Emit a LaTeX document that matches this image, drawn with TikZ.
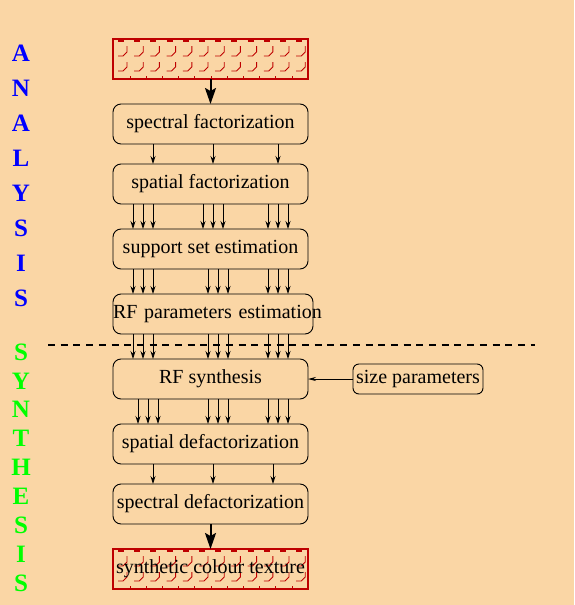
\documentclass[tikz,border=0pt]{standalone}
\usepackage{fontspec}
\setmainfont{Liberation Serif}
\usetikzlibrary{arrows.meta,positioning}
\definecolor{peach}{RGB}{250,214,165}
\definecolor{texred}{RGB}{190,0,0}
\definecolor{anablue}{RGB}{0,0,255}
\definecolor{syngreen}{RGB}{0,255,0}
\tikzset{
	box/.style={draw, line width=0.9pt, outer sep=0pt, rounded corners=8pt, minimum width=195pt, minimum height=40pt, inner xsep=0pt, font=\fontsize{20}{24}\selectfont},
	texbox/.style={draw=texred, line width=1.2pt, outer sep=0pt, minimum width=195pt, minimum height=40pt, inner xsep=0pt, font=\fontsize{20}{24}\selectfont},
	letter/.style={font=\bfseries\fontsize{25}{30}\selectfont, inner sep=0pt},
	arr/.style={-{Stealth[length=8pt,width=5pt]}, line width=0.8pt},
	bigarr/.style={-{Stealth[length=16pt,width=11pt,inset=3pt]}, line width=2pt},
	hooks/.pic={
		\foreach \i in {0,...,11} {
			\pgfmathsetmacro{\xo}{5+16.2*\i}
			\draw[texred, line width=2pt] (\xo,1.5) -- (\xo+6,1.5);
			\draw[texred, line width=0.9pt] (\xo,17) -- (\xo+5,17) -- (\xo+9,13) -- (\xo+9,7);
			\draw[texred, line width=0.9pt] (\xo,32) -- (\xo+5,32) -- (\xo+9,28) -- (\xo+9,23);
			\draw[texred, line width=0.9pt] (\xo+12,40) -- (\xo+12,37);
		}
	}
}
\begin{document}
\begin{tikzpicture}[x=1pt,y=-1pt, node distance=25pt]
	\fill[peach] (0,0) rectangle (574,605);
	\useasboundingbox (0,0) rectangle (574,605);
	% side titles
	\foreach \l [count=\i] in {A,N,A,L,Y,S,I,S}
		\node[letter, text=anablue] (ana\i) at (21,18+35*\i) {\l};
	\foreach \l [count=\i] in {S,Y,N,T,H,E,S,I,S}
		\node[letter, text=syngreen] (syn\i) at (21,323.1+28.9*\i) {\l};
	% textures
	\pic at (113,39) {hooks};
	\pic at (113,549) {hooks};
	% boxes
	\node[texbox] (tex1) at (210.5,59) {};
	\node[box, below=of tex1] (specf) {spectral factorization};
	\node[box, below=20pt of specf] (spatf) {spatial factorization};
	\node[box, below=of spatf] (supp) {support set estimation};
	\node[box, below=of supp, xshift=2.5pt, text width=200pt, align=center] (rfpar) {\mbox{RF parameters estimation}};
	\node[box, below=of rfpar, xshift=-2.5pt] (rfsyn) {RF synthesis};
	\node[box, right=45pt of rfsyn, minimum width=130pt, minimum height=30pt, rounded corners=6pt] (size) {size parameters};
	\node[box, below=of rfsyn] (spatd) {spatial defactorization};
	\node[box, below=20pt of spatd] (specd) {spectral defactorization};
	\node[texbox, below=of specd] (tex2) {synthetic colour texture};
	% analysis / synthesis border
	\draw[line width=2.5pt, dash pattern=on 7pt off 5.7pt] (48,345) -- (535,345);
	% connectors
	\draw[bigarr] (tex1) -- (specf);
	\foreach \x in {153,213,278}
		\draw[arr] (\x,0 |- specf.south) -- (\x,0 |- spatf.north);
	\foreach \x in {133,143,153,203,213,223,268,278,288}
		\draw[arr] (\x,0 |- spatf.south) -- (\x,0 |- supp.north);
	\foreach \x in {133,143,153,208,218,228,268,278,288} {
		\draw[arr] (\x,0 |- supp.south) -- (\x,0 |- rfpar.north);
		\draw[arr] (\x,0 |- rfpar.south) -- (\x,0 |- rfsyn.north);
	}
	\draw[arr, -{Stealth[length=8pt,width=4pt]}] (size) -- (rfsyn);
	\foreach \x in {138,148,158,208,218,228,268,278,288}
		\draw[arr] (\x,0 |- rfsyn.south) -- (\x,0 |- spatd.north);
	\foreach \x in {153,213,273}
		\draw[arr] (\x,0 |- spatd.south) -- (\x,0 |- specd.north);
	\draw[bigarr] (specd) -- (tex2);
\end{tikzpicture}
\end{document}
